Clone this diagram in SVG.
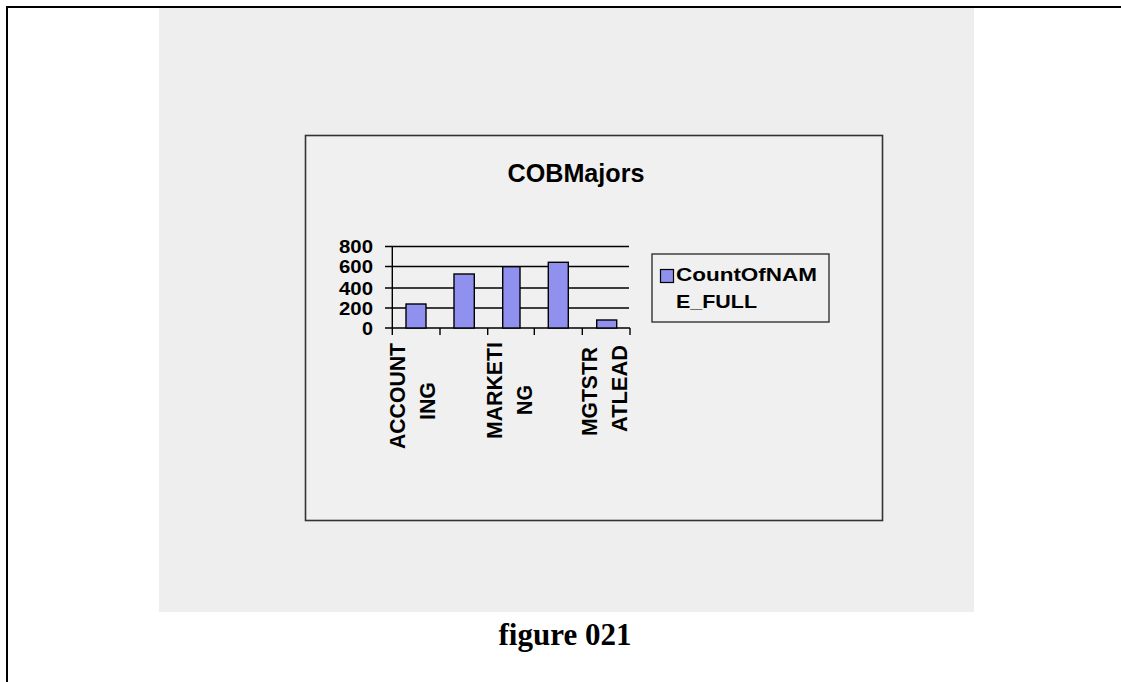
<svg xmlns="http://www.w3.org/2000/svg" width="1121" height="682" viewBox="0 0 1121 682">
  <style>
    .lbl { font-family: "Liberation Sans", Arial, sans-serif; font-weight: bold; fill: #000; }
    .grid { stroke: #000; stroke-width: 1.4; }
    .bar { fill: #9090ee; stroke: #000; stroke-width: 1.4; }
    .cap { font-family: "Liberation Serif", "Times New Roman", serif; font-weight: bold; fill: #000; }
  </style>
  <!-- page -->
  <rect x="0" y="0" width="1121" height="682" fill="#ffffff"/>
  <rect x="159" y="8" width="815" height="604" fill="#eeeeee"/>
  <rect x="7" y="7" width="1130" height="700" fill="none" stroke="#000" stroke-width="2"/>

  <!-- chart frame -->
  <g id="chart-area">
    <rect x="305.5" y="135.5" width="577" height="385" fill="#f0f0f0" stroke="#333" stroke-width="1.6"/>
    <text class="lbl" x="576" y="182" font-size="25" text-anchor="middle" textLength="137" lengthAdjust="spacingAndGlyphs">COBMajors</text>
  </g>

  <!-- gridlines and axes -->
  <g id="axes">
    <line class="grid" x1="385" y1="246.5" x2="629" y2="246.5"/>
    <line class="grid" x1="385" y1="266.5" x2="629" y2="266.5"/>
    <line class="grid" x1="385" y1="288" x2="629" y2="288"/>
    <line class="grid" x1="385" y1="308" x2="629" y2="308"/>
    <line class="grid" x1="385" y1="328" x2="630" y2="328"/>
    <line class="grid" x1="392.3" y1="246" x2="392.3" y2="335"/>
    <line class="grid" x1="440" y1="328" x2="440" y2="335"/>
    <line class="grid" x1="487.7" y1="328" x2="487.7" y2="335"/>
    <line class="grid" x1="534.3" y1="328" x2="534.3" y2="335"/>
    <line class="grid" x1="582.3" y1="328" x2="582.3" y2="335"/>
    <line class="grid" x1="630" y1="328" x2="630" y2="335"/>
  </g>

  <!-- value axis labels -->
  <g id="y-labels" class="lbl" font-size="18" text-anchor="end">
    <text x="373" y="253" textLength="34" lengthAdjust="spacingAndGlyphs">800</text>
    <text x="373" y="273" textLength="34" lengthAdjust="spacingAndGlyphs">600</text>
    <text x="373" y="294.5" textLength="34" lengthAdjust="spacingAndGlyphs">400</text>
    <text x="373" y="314.5" textLength="34" lengthAdjust="spacingAndGlyphs">200</text>
    <text x="373" y="334.5" textLength="11" lengthAdjust="spacingAndGlyphs">0</text>
  </g>

  <!-- data series -->
  <g id="bars">
    <rect class="bar" x="406" y="304" width="20" height="24"/>
    <rect class="bar" x="454" y="274" width="20.3" height="54"/>
    <rect class="bar" x="502.7" y="266.7" width="17.3" height="61.3"/>
    <rect class="bar" x="548.3" y="262.3" width="20" height="65.7"/>
    <rect class="bar" x="596.7" y="320" width="20" height="8"/>
  </g>

  <!-- category labels -->
  <g id="x-labels" class="lbl" font-size="22" text-anchor="middle">
    <text transform="translate(405,396) rotate(-90)" textLength="106" lengthAdjust="spacingAndGlyphs">ACCOUNT</text>
    <text transform="translate(435,401) rotate(-90)" textLength="38" lengthAdjust="spacingAndGlyphs">ING</text>
    <text transform="translate(502,390.5) rotate(-90)" textLength="97" lengthAdjust="spacingAndGlyphs">MARKETI</text>
    <text transform="translate(532,400) rotate(-90)" textLength="30" lengthAdjust="spacingAndGlyphs">NG</text>
    <text transform="translate(597,391.5) rotate(-90)" textLength="89" lengthAdjust="spacingAndGlyphs">MGTSTR</text>
    <text transform="translate(627,388.5) rotate(-90)" textLength="87" lengthAdjust="spacingAndGlyphs">ATLEAD</text>
  </g>

  <!-- legend -->
  <g id="legend">
    <rect x="652" y="254" width="177" height="68" fill="#f0f0f0" stroke="#333" stroke-width="1.4"/>
    <rect x="660.5" y="269.5" width="13" height="13" fill="#9090ee" stroke="#000" stroke-width="1.2"/>
    <text class="lbl" x="676" y="281" font-size="19" textLength="141" lengthAdjust="spacingAndGlyphs">CountOfNAM</text>
    <text class="lbl" x="676" y="308" font-size="19" textLength="81" lengthAdjust="spacingAndGlyphs">E_FULL</text>
  </g>

  <!-- caption -->
  <text class="cap" x="565" y="645" font-size="31" text-anchor="middle">figure 021</text>
</svg>
